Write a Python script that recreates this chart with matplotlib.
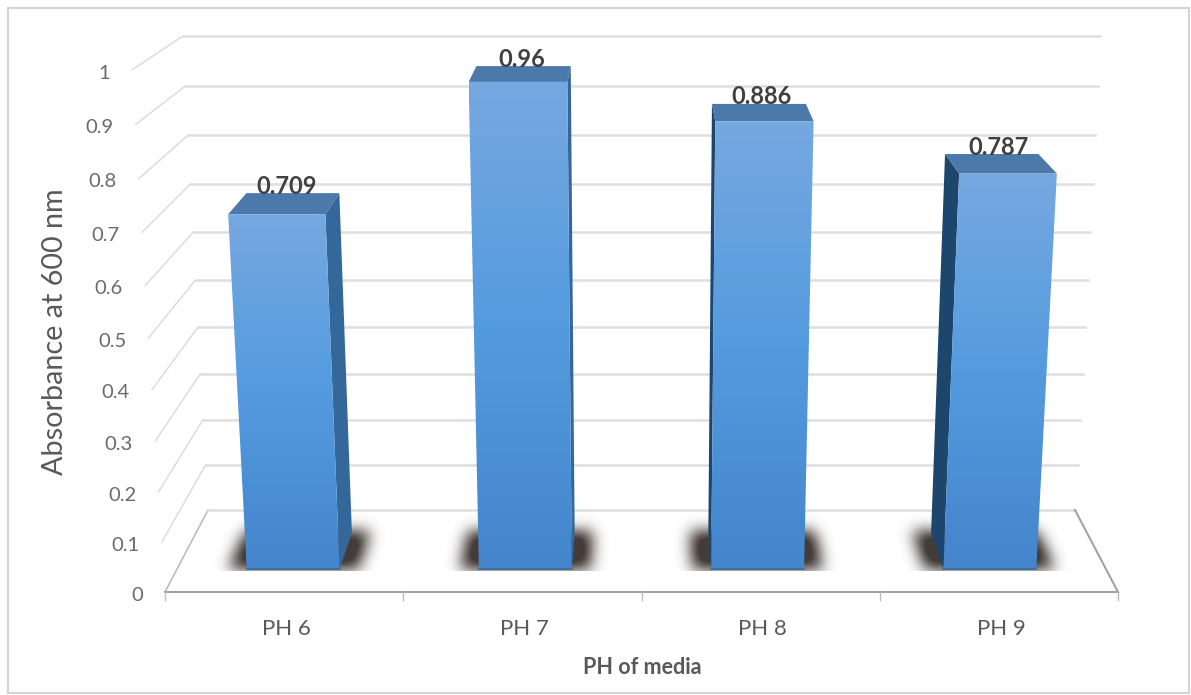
import numpy as np
import matplotlib
matplotlib.use("Agg")
import matplotlib.pyplot as plt
from matplotlib.path import Path
from matplotlib.patches import Polygon, Rectangle

plt.rcParams['font.family'] = ['Lato', 'DejaVu Sans']

categories = ["PH 6", "PH 7", "PH 8", "PH 9"]
absorbance = [0.709, 0.96, 0.886, 0.787]
value_labels = ["0.709", "0.96", "0.886", "0.787"]
y_ticks = [0, 0.1, 0.2, 0.3, 0.4, 0.5, 0.6, 0.7, 0.8, 0.9, 1]
y_tick_labels = ["0", "0.1", "0.2", "0.3", "0.4", "0.5", "0.6", "0.7", "0.8", "0.9", "1"]
x_title = "PH of media"
y_title = "Absorbance at 600 nm"

W_PX, H_PX = 1191, 695
CX = 641.5
BAR_FRONT, BAR_BACK = 0.28, 0.72
BAR_HALF = 0.1


def project(u, v, d):
    """Map lateral position u (-1..1), value v and depth d (0 front, 1 back) to canvas pixels."""
    half = (476.5 - 43 * d) + (33 - 8 * d) * v
    base = 592 - 82 * d
    rise = (494 - 48 * d) * v + 28 * v ** 2
    return CX + u * half, base - rise


def gaussian_blur(mask, sigma):
    radius = int(3 * sigma)
    xs = np.arange(-radius, radius + 1)
    kernel = np.exp(-xs ** 2 / (2 * sigma ** 2))
    kernel /= kernel.sum()
    out = np.apply_along_axis(lambda r: np.convolve(r, kernel, mode="same"), 0, mask)
    return np.apply_along_axis(lambda r: np.convolve(r, kernel, mode="same"), 1, out)


fig = plt.figure(figsize=(W_PX / 100, H_PX / 100), dpi=100, facecolor="white")
ax = fig.add_axes([0, 0, 1, 1])
ax.set_xlim(0, W_PX)
ax.set_ylim(H_PX, 0)
ax.axis("off")

# outer chart border
ax.add_patch(Rectangle((8, 8), 1181, 685, fill=False, ec="#d4d4d4", lw=1.5, zorder=1))

# back wall and side wall gridlines
for v in y_ticks:
    x0, y0 = project(-1, v, 0)
    x1, y1 = project(-1, v, 1)
    x2, y2 = project(1, v, 1)
    shade = "#b8b8b8" if v == 0 else "#dcdcdc"
    ax.plot([x0, x1], [y0, y1], color=shade, lw=1.1, zorder=2, solid_capstyle="round")
    ax.plot([x1, x2], [y1, y2], color="#dedede", lw=1.8, zorder=2)

# floor outline
fl = project(-1, 0, 0)
fr = project(1, 0, 0)
br = project(1, 0, 1)
ax.plot([br[0], fr[0], fl[0]], [br[1], fr[1], fl[1]], color="#a3a3a3", lw=1.5, zorder=3,
        solid_joinstyle="miter")

# category separators on the front edge
for u in np.linspace(-1, 1, len(categories) + 1):
    x, y = project(u, 0, 0)
    ax.plot([x, x], [y, y + 8], color="#bdbdbd", lw=1.0, zorder=3)

centers = np.linspace(-0.75, 0.75, len(categories))

# soft floor shadows beneath the columns
grid_x, grid_y = np.meshgrid(np.arange(W_PX), np.arange(430, H_PX))
points = np.column_stack([grid_x.ravel() + 0.5, grid_y.ravel() + 0.5])
shadow = np.zeros(grid_x.shape)
for c in centers:
    corners = [project(c - BAR_HALF - 0.04, 0, BAR_FRONT), project(c + BAR_HALF + 0.04, 0, BAR_FRONT),
               project(c + BAR_HALF + 0.04, 0, 0.75), project(c - BAR_HALF - 0.04, 0, 0.75)]
    shadow += Path(corners).contains_points(points).reshape(grid_x.shape).astype(float)
shadow = gaussian_blur(shadow, 7.5)
shadow[grid_y > 570] = 0
rgba = np.zeros(shadow.shape + (4,))
rgba[..., :3] = np.array([68, 60, 56]) / 255
rgba[..., 3] = np.clip(shadow * 1.2, 0, 1)
ax.imshow(rgba, extent=(0, W_PX, H_PX, 430), aspect="auto", zorder=4, interpolation="bilinear")

# face shading runs from light at the top of the plot to deeper blue at the floor
top_col = np.array([118, 168, 225]) / 255
mid_col = np.array([84, 155, 222]) / 255
low_col = np.array([68, 133, 203]) / 255

for c, v, lab in zip(centers, absorbance, value_labels):
    ul, ur = c - BAR_HALF, c + BAR_HALF
    side_u = ur if c < 0 else ul
    side_col = "#35689a" if c < 0 else "#1d466d"
    side = [project(side_u, 0, BAR_FRONT), project(side_u, v, BAR_FRONT),
            project(side_u, v, BAR_BACK), project(side_u, 0, BAR_BACK)]
    ax.add_patch(Polygon(side, closed=True, fc=side_col, ec="none", zorder=5))
    top = [project(ul, v, BAR_FRONT), project(ur, v, BAR_FRONT),
           project(ur, v, BAR_BACK), project(ul, v, BAR_BACK)]
    ax.add_patch(Polygon(top, closed=True, fc="#4b79aa", ec="none", zorder=6))
    face = [project(ul, 0, BAR_FRONT), project(ur, 0, BAR_FRONT),
            project(ur, v, BAR_FRONT), project(ul, v, BAR_FRONT)]
    face_patch = Polygon(face, closed=True, fc="none", ec="none", zorder=7)
    ax.add_patch(face_patch)
    f = np.linspace(0, 1, 128)[:, None]
    ramp = np.where(f < 0.5, top_col + (mid_col - top_col) * f * 2,
                    mid_col + (low_col - mid_col) * (f - 0.5) * 2)
    xs = [p[0] for p in face]
    ys = [p[1] for p in face]
    im = ax.imshow(ramp[:, None, :], extent=(min(xs), max(xs), max(ys), min(ys)), aspect="auto",
                   zorder=7, interpolation="bilinear")
    im.set_clip_path(face_patch)
    bx0, by0 = project(ul, 0, BAR_FRONT)
    bx1, by1 = project(ur, 0, BAR_FRONT)
    ax.plot([bx0, bx1], [by0, by1], color="#3c6d9f", lw=1.2, zorder=8)

    lx, _ = project(c, v, 0.55)
    _, ly = project(c, v, BAR_BACK)
    ax.annotate(lab, (lx, ly), xytext=(0, 5), textcoords="offset points", ha="center", va="center",
                fontsize=17, fontweight="bold", color="#404040", zorder=9)

# value axis labels follow the slanted front edge
for v, lab in zip(y_ticks, y_tick_labels):
    x, y = project(-1, v, 0)
    ax.annotate(lab, (x, y), xytext=(-16, -2.2), textcoords="offset points", ha="right", va="center",
                fontsize=14.5, color="#6a6a6a", zorder=9)

for c, lab in zip(centers, categories):
    x, y = project(c, 0, 0)
    ax.annotate(lab, (x, y), xytext=(1.5, -26.5), textcoords="offset points", ha="center", va="center",
                fontsize=16, color="#595959", zorder=9)

ax.text(CX + 1, 667, x_title, ha="center", va="center", fontsize=15.5, fontweight="bold", color="#595959")
ax.text(55, 332, y_title, ha="center", va="center", rotation=90, fontsize=20.7, color="#595959")

fig.savefig("out.png", dpi=100, facecolor="white")
